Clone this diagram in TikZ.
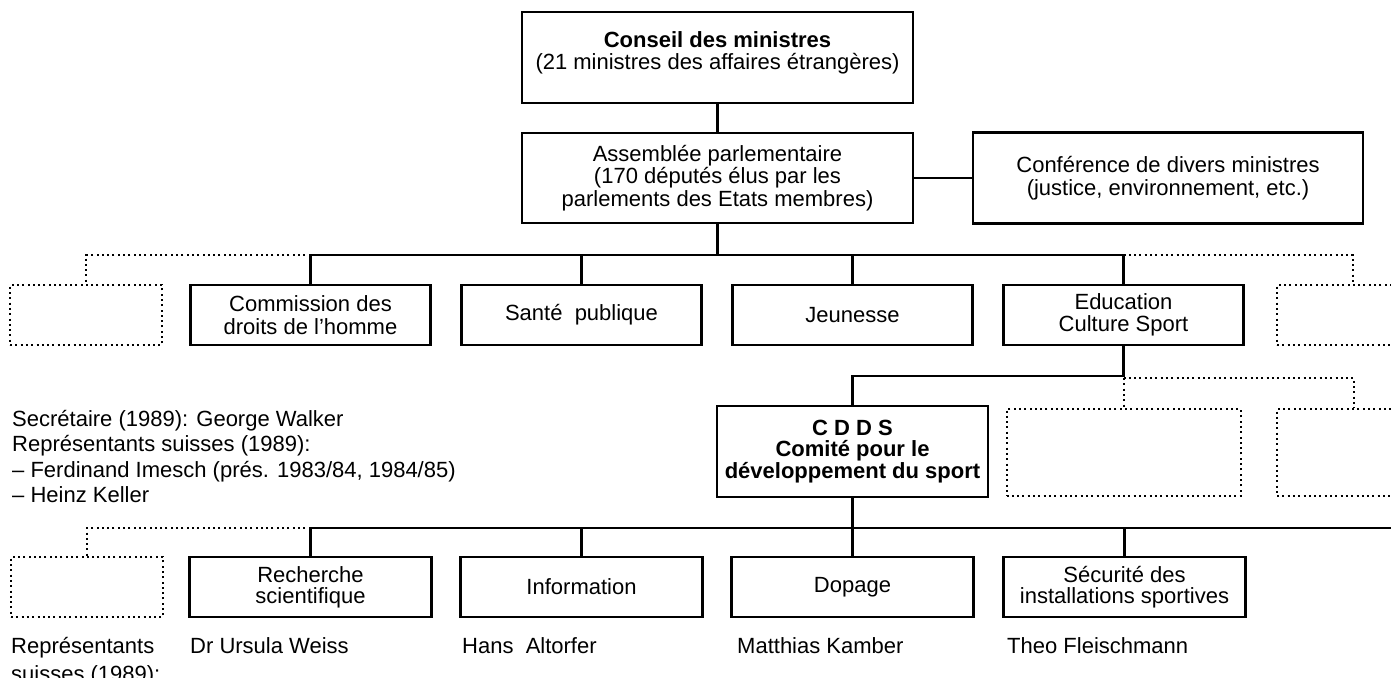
\documentclass[tikz,border=0pt]{standalone}
\usepackage{fontspec}
\setmainfont{Liberation Sans}
\usetikzlibrary{calc}
\begin{document}
\begin{tikzpicture}[x=1pt,y=-1pt,
  every node/.style={font=\fontsize{22}{22.5}\selectfont, inner sep=0pt},
  box/.style={draw, line width=2.2pt, align=center},
  dotbox/.style={draw, line width=2pt, dash pattern=on 2pt off 3.3pt},
  link/.style={line width=2.2pt},
  dotlink/.style={line width=2pt, dash pattern=on 2pt off 3.3pt},
  rowtwo/.style={box, minimum width=240pt, minimum height=60pt},
  rowfour/.style={box, minimum width=242pt, minimum height=60pt},
  persname/.style={anchor=base west}]
\useasboundingbox (0,0) rectangle (1391,677);
\clip (0,0) rectangle (1391,677);

% top level
\node[box, minimum width=391pt, minimum height=91pt] (conseil) at (717.5,57.5) {};
\node[align=center, anchor=north] (conseiltxt) at (717.5,31) {\textbf{Conseil des ministres}\\(21 ministres des affaires étrangères)};
\node[box, minimum width=391pt, minimum height=90pt] (assembly) at (717.5,178) {Assemblée parlementaire\\(170 députés élus par les\\parlements des Etats membres)};
\node[box, minimum width=390pt, minimum height=91pt] (conference) at (1168,178) {Conférence de divers ministres\\(justice, environnement, etc.)};

% row 2
\node[dotbox, minimum width=152pt, minimum height=60pt] (dotLa) at (86,315) {};
\node[rowtwo] (commission) at (310.5,315) {Commission des\\droits de l’homme};
\node[rowtwo] (sante) at (581.5,315) {Santé~~publique};
\node[rowtwo] (jeunesse) at (852.5,315) {Jeunesse};
\node[rowtwo] (education) at (1123.5,315) {Education\\Culture Sport};
\node[dotbox, minimum width=152pt, minimum height=60pt] (dotRa) at (1353,315) {};

% row 3
\node[box, minimum width=271pt, minimum height=91pt, font=\bfseries\fontsize{22}{21.5}\selectfont] (cdds) at (852.5,451.5) {C D D S\\Comité pour le\\développement du sport};
\node[dotbox, minimum width=234pt, minimum height=87pt] (dotMb) at (1123.5,452.5) {};
\node[dotbox, minimum width=154pt, minimum height=87pt] (dotRb) at (1354,452.5) {};

% row 4
\node[dotbox, minimum width=152pt, minimum height=60pt] (dotLc) at (87,587) {};
\node[rowfour, font=\fontsize{22}{21}\selectfont] (recherche) at (310.5,587) {Recherche\\scientifique};
\node[rowfour] (information) at (581.5,587) {Information};
\node[rowfour] (dopage) at (852.5,587) {Dopage};
\node[rowfour, font=\fontsize{22}{21}\selectfont] (securite) at (1124.5,587) {Sécurité des\\installations sportives};

% names
\node[align=left, anchor=north west, font=\fontsize{22}{28}\selectfont] (reps) at (11,637) {Représentants\\suisses (1989):};
\node[persname] (weiss) at (190,653) {Dr Ursula Weiss};
\node[persname] (altorfer) at (462,653) {Hans~~Altorfer};
\node[persname] (kamber) at (737,653) {Matthias Kamber};
\node[persname] (fleisch) at (1007,653) {Theo Fleischmann};

% left text block
\node[align=left, anchor=north west, font=\fontsize{22}{25.5}\selectfont] (secr) at (12,410) {Secrétaire (1989): George Walker\\Représentants suisses (1989):\\– Ferdinand Imesch (prés. 1983/84, 1984/85)\\– Heinz Keller};

% connectors
\draw[link] (conseil) -- (assembly);
\draw[link] (assembly) -- (conference);
\coordinate (busa) at ($(assembly.south)+(0,31)$);
\draw[link] (assembly.south) -- (busa);
\draw[link] (busa) -| (commission.north);
\draw[link] (busa) -| (sante.north);
\draw[link] (busa) -| (jeunesse.north);
\draw[link] (busa) -| (education.north);
\draw[dotlink] (commission.north |- busa) -| (dotLa.north);
\draw[dotlink] (education.north |- busa) -| (dotRa.north);

\coordinate (busb) at ($(education.south)+(0,30)$);
\draw[link] (education.south) -- (busb) -| (cdds.north);
\draw[dotlink] ($(busb)+(0,2)$) -- (dotMb.north);
\draw[dotlink] ($(busb)+(0,2)$) -| (dotRb.north);

\coordinate (busc) at ($(cdds.south)+(0,30)$);
\coordinate (redge) at (1396,0);
\draw[link] (cdds.south) -- (busc);
\draw[link] (busc) -| (recherche.north);
\draw[link] (busc) -| (information.north);
\draw[link] (busc) -- (dopage.north);
\draw[link] (busc) -| (securite.north);
\draw[link] (busc) -- (busc -| redge);
\draw[dotlink] (recherche.north |- busc) -| (dotLc.north);
\end{tikzpicture}
\end{document}
